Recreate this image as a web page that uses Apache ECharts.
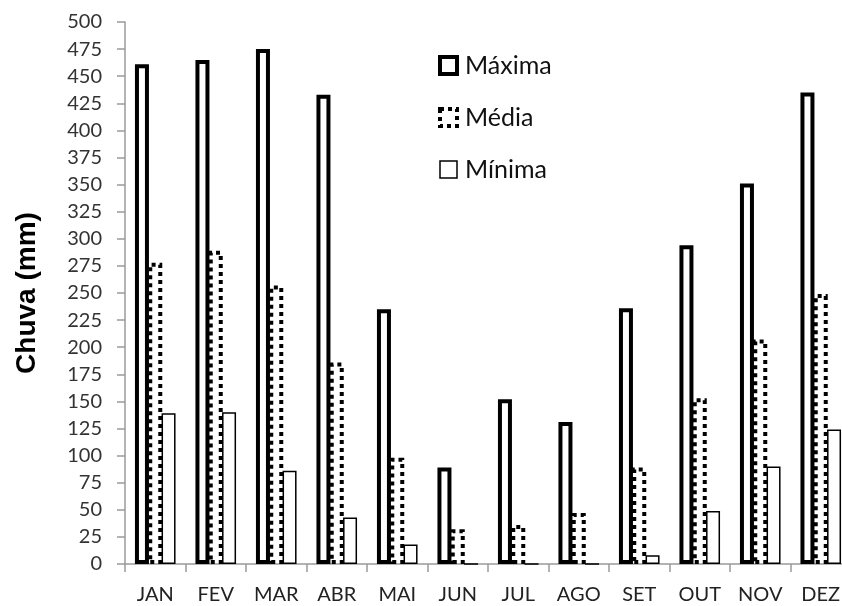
<!DOCTYPE html>
<html><head><meta charset="utf-8">
<script src="https://cdn.jsdelivr.net/npm/echarts@6/dist/echarts.min.js"></script>
<style>html,body{margin:0;padding:0;background:#fff}#c{width:842px;height:606px}</style>
</head><body><div id="c"></div>
<script>
const categories = ['JAN','FEV','MAR','ABR','MAI','JUN','JUL','AGO','SET','OUT','NOV','DEZ'];
const maxima = [461, 465, 475, 433, 235, 89, 152, 131, 236, 294, 351, 435];
const media  = [278, 289, 257, 186, 98, 32, 36, 47, 89, 153, 207, 249];
const minima = [139, 140, 86, 43, 18, 0, 0, 0, 8, 49, 90, 124];
const yTicks = {min: 0, max: 500, interval: 25};

const chart = echarts.init(document.getElementById('c'), null, {renderer: 'canvas'});
const bw = 14;
chart.setOption({
  backgroundColor: '#fff',
  animation: false,
  grid: {left: 125, right: -9, top: 22, bottom: 42, containLabel: false, outerBoundsMode: 'none'},
  legend: {
    orient: 'vertical', left: 433, top: 48, itemGap: 27,
    itemWidth: 17, itemHeight: 17, icon: 'rect',
    textStyle: {fontFamily: 'Lato', fontSize: 25, color: '#111', padding: [0,0,0,3]},
    data: [
      {name: 'Máxima', itemStyle: {color: '#fff', borderColor: '#000', borderWidth: 4, borderType: 'solid'}},
      {name: 'Média', itemStyle: {color: '#fff', borderColor: '#000', borderWidth: 4, borderType: [4, 4]}},
      {name: 'Mínima', itemStyle: {color: '#fff', borderColor: '#000', borderWidth: 1.5, borderType: 'solid'}}
    ]
  },
  xAxis: {
    type: 'category', data: categories,
    axisLine: {lineStyle: {color: '#9a9a9a', width: 1.5}},
    axisTick: {show: true, length: 8, lineStyle: {color: '#9a9a9a', width: 1.5}},
    axisLabel: {fontFamily: 'Lato', fontSize: 20, color: '#222', margin: 21}
  },
  yAxis: {
    type: 'value', min: yTicks.min, max: yTicks.max, interval: yTicks.interval,
    name: 'Chuva (mm)', nameLocation: 'middle', nameGap: 84, nameRotate: 90,
    nameTextStyle: {fontFamily: 'Liberation Sans', fontWeight: 'bold', fontSize: 28, color: '#000'},
    axisLine: {show: true, lineStyle: {color: '#9a9a9a', width: 1.5}},
    axisTick: {show: true, length: 8, lineStyle: {color: '#9a9a9a', width: 1.5}},
    splitLine: {show: false},
    axisLabel: {fontFamily: 'Lato', fontSize: 20, color: '#333', margin: 23}
  },
  series: [
    {name: 'Máxima', type: 'bar', data: maxima, barWidth: bw, barGap: '-5%',
     itemStyle: {color: '#fff', borderColor: '#000', borderWidth: 4, borderType: 'solid'}},
    {name: 'Média', type: 'bar', data: media, barWidth: bw, barGap: '-5%',
     itemStyle: {color: '#fff', borderColor: '#000', borderWidth: 4, borderType: [4, 4]}},
    {name: 'Mínima', type: 'bar', data: minima, barWidth: bw, barGap: '-5%',
     itemStyle: {color: '#fff', borderColor: '#000', borderWidth: 1.5, borderType: 'solid'}}
  ]
});
</script></body></html>
